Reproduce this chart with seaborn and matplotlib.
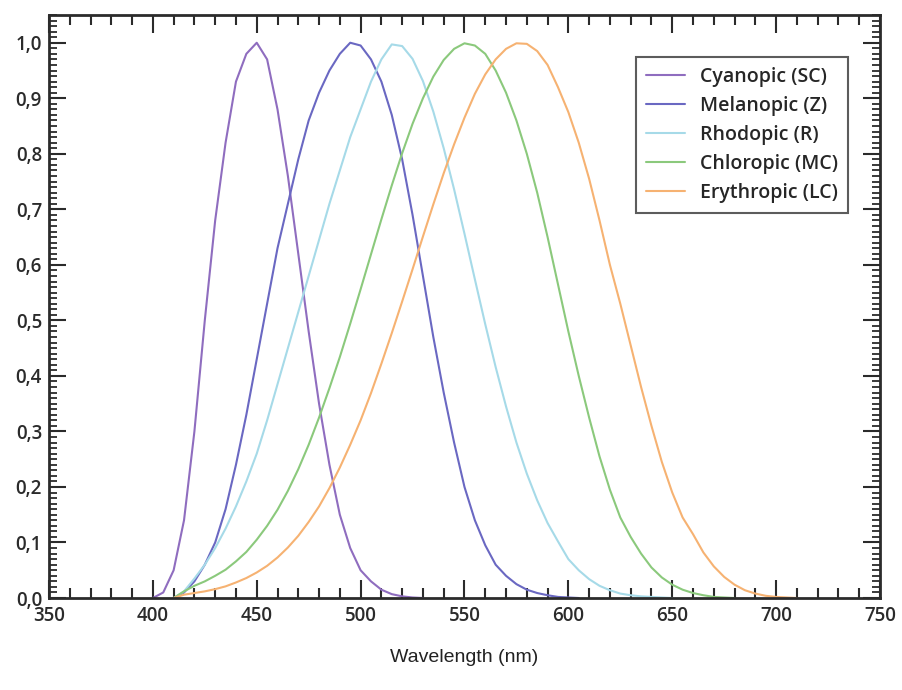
import numpy as np
import pandas as pd
import matplotlib
matplotlib.use("Agg")
import matplotlib.pyplot as plt
from matplotlib.ticker import MultipleLocator, FuncFormatter
import seaborn as sns

# longitud de onda (nm), paso de 5 nm
wavelength = list(range(400, 725, 5))

# curvas normalizadas (None = sin dato)
cyanopic = [0.0, 0.01, 0.05, 0.14, 0.30, 0.50, 0.68, 0.82, 0.93, 0.98,
            1.0, 0.97, 0.88, 0.76, 0.62, 0.48, 0.35, 0.24, 0.15, 0.09,
            0.05, 0.03, 0.015, 0.007, 0.003, 0.001, 0.0]
melanopic = [None, None, 0.0, 0.01, 0.03, 0.06, 0.10, 0.16, 0.24, 0.33,
             0.43, 0.53, 0.63, 0.71, 0.79, 0.86, 0.91, 0.95, 0.98, 1.0,
             0.995, 0.97, 0.93, 0.87, 0.79, 0.69, 0.58, 0.47, 0.37, 0.28,
             0.20, 0.14, 0.095, 0.06, 0.04, 0.025, 0.015, 0.009, 0.005, 0.002,
             0.001, 0.0]
rhodopic = [None, None, 0.0, 0.012, 0.035, 0.06, 0.09, 0.125, 0.165, 0.21,
            0.26, 0.32, 0.385, 0.45, 0.515, 0.58, 0.645, 0.71, 0.77, 0.83,
            0.88, 0.93, 0.97, 0.997, 0.994, 0.971, 0.931, 0.876, 0.81, 0.736,
            0.656, 0.574, 0.493, 0.416, 0.345, 0.28, 0.224, 0.176, 0.135, 0.102,
            0.07, 0.05, 0.034, 0.022, 0.014, 0.008, 0.005, 0.003, 0.002, 0.001,
            0.0]
chloropic = [None, None, 0.0, 0.012, 0.022, 0.030, 0.040, 0.051, 0.066, 0.083,
             0.105, 0.13, 0.159, 0.193, 0.232, 0.276, 0.325, 0.378, 0.434, 0.494,
             0.556, 0.619, 0.682, 0.743, 0.801, 0.854, 0.90, 0.939, 0.969, 0.989,
             0.999, 0.995, 0.98, 0.95, 0.91, 0.86, 0.80, 0.73, 0.65, 0.565,
             0.48, 0.40, 0.325, 0.255, 0.195, 0.145, 0.11, 0.08, 0.055, 0.037,
             0.024, 0.015, 0.009, 0.005, 0.002, 0.001, 0.0]
erythropic = [None, None, 0.0, 0.006, 0.009, 0.012, 0.016, 0.021, 0.028, 0.036,
              0.046, 0.058, 0.073, 0.091, 0.112, 0.137, 0.165, 0.198, 0.235, 0.276,
              0.32, 0.369, 0.422, 0.477, 0.534, 0.592, 0.651, 0.709, 0.765, 0.817,
              0.865, 0.908, 0.943, 0.97, 0.989, 0.999, 0.998, 0.985, 0.96, 0.92,
              0.875, 0.82, 0.755, 0.68, 0.60, 0.53, 0.455, 0.38, 0.31, 0.245,
              0.19, 0.145, 0.115, 0.082, 0.057, 0.038, 0.024, 0.014, 0.008, 0.004,
              0.002, 0.001, 0.0]

names = ["Cyanopic (SC)", "Melanopic (Z)", "Rhodopic (R)",
         "Chloropic (MC)", "Erythropic (LC)"]
colores = ["#8f6dbf", "#6a68c2", "#a6dae8", "#8bc97c", "#f6b272"]

series = [cyanopic, melanopic, rhodopic, chloropic, erythropic]
frames = []
for nombre, vals in zip(names, series):
    d = pd.DataFrame({"wl": wavelength[:len(vals)], "val": vals})
    d["curva"] = nombre
    frames.append(d.dropna())
df = pd.concat(frames, ignore_index=True)

sns.set_theme(style="ticks")
plt.rcParams["font.family"] = ["Open Sans", "DejaVu Sans"]

fig = plt.figure(figsize=(9.02, 6.90), dpi=100)
ax = fig.add_axes([0.0543, 0.1333, 0.9213, 0.845])

sns.lineplot(data=df, x="wl", y="val", hue="curva", hue_order=names,
             palette=colores, linewidth=1.5, ax=ax, legend=False)

ax.set_xlim(350, 750)
ax.set_ylim(0, 1.05)
ax.xaxis.set_major_locator(MultipleLocator(50))
ax.xaxis.set_minor_locator(MultipleLocator(10))
ax.yaxis.set_major_locator(MultipleLocator(0.1))
ax.yaxis.set_minor_locator(MultipleLocator(0.01))
ax.yaxis.set_major_formatter(FuncFormatter(lambda v, p: f"{v:.1f}".replace(".", ",")))

for s in ax.spines.values():
    s.set_linewidth(2.0)
    s.set_color("#2b2b2b")

ax.tick_params(which="both", direction="in", top=True, right=True,
               color="#2b2b2b", width=1.5)
ax.tick_params(axis="x", which="major", length=13, pad=6)
ax.tick_params(axis="x", which="minor", length=7)
ax.tick_params(axis="y", which="major", length=12, pad=5)
ax.tick_params(axis="y", which="minor", length=6, width=1.3)
for lab in ax.get_xticklabels() + ax.get_yticklabels():
    lab.set_fontsize(13.5)
    lab.set_fontweight("semibold")
    lab.set_color("#2b2b2b")

ax.set_xlabel("")
ax.set_ylabel("")
fig.text(0.515, 0.047, "Wavelength (nm)", ha="center", va="center",
         fontsize=14, family=["Liberation Sans", "DejaVu Sans"], color="#222222")

handles = [plt.Line2D([], [], color=c, linewidth=1.5) for c in colores]
leg = ax.legend(handles, names, loc="upper right", bbox_to_anchor=(0.9615, 0.928),
                frameon=True, fancybox=False, handlelength=2.0,
                labelspacing=0.47, borderpad=0.5, handletextpad=0.8,
                borderaxespad=0.0,
                prop={"weight": "semibold", "size": 14})
leg.get_frame().set_edgecolor("#333333")
leg.get_frame().set_linewidth(1.5)

fig.savefig("out.png", dpi=100, facecolor="white")
